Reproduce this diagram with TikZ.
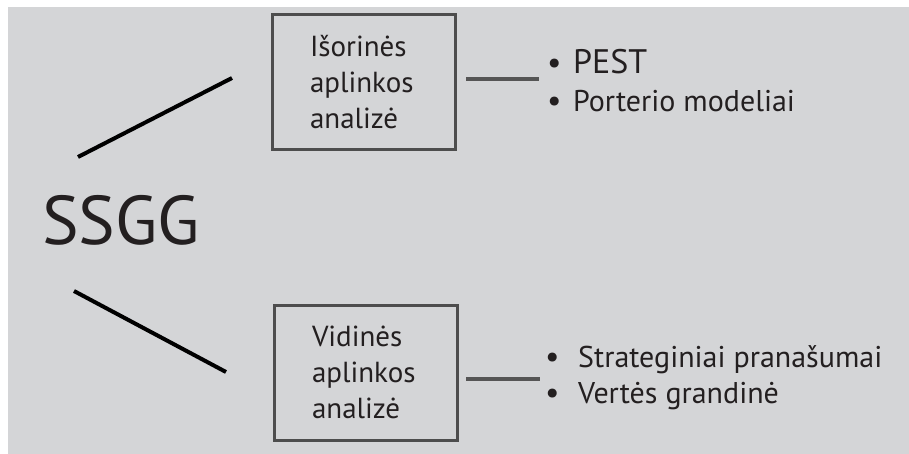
\documentclass[tikz,border=0pt]{standalone}
\usepackage{fontspec}
\setmainfont{PT Sans}
\definecolor{panel}{HTML}{D4D5D7}
\definecolor{ink}{HTML}{231F20}
\definecolor{frame}{HTML}{4D4D4D}
\definecolor{stubgray}{HTML}{555555}
\newcommand\itembullet[1]{\makebox[#1][l]{\fontsize{32}{32}\selectfont\textbullet}}
\begin{document}
\begin{tikzpicture}[x=1pt,y=-1pt,
  txt/.style={inner sep=0pt, text=ink, anchor=base west},
  boxfont/.style={font=\fontsize{29}{36}\selectfont},
  areabox/.style={draw=frame, line width=3pt, minimum width=183pt, minimum height=135pt,
    inner xsep=38pt, inner ysep=0pt, text width=107pt, align=left, text=ink, boxfont},
  branch/.style={draw=black, line width=4pt},
  stub/.style={draw=stubgray, line width=4.5pt}]
  % page and grey panel
  \useasboundingbox (0,0) rectangle (909,454);
  \fill[panel] (8,7) rectangle (909,454);

  % central label
  \node[txt, font=\fontsize{69}{69}\selectfont] (ssgg) at (42,244) {SSGG};

  % the two analysis boxes
  \node[areabox] (ext) at (363.5,82.5) {Išorinės\\aplinkos\\analizė};
  \node[areabox] (int) at (365.5,372.5) {Vidinės\\aplinkos\\analizė};

  % branches from the central label
  \coordinate (upA) at (78,157);
  \coordinate (upB) at (232,78);
  \coordinate (loA) at (74,291);
  \coordinate (loB) at (226,372);
  \draw[branch] (upA) -- (upB);
  \draw[branch] (loA) -- (loB);

  % short stubs leading to the item lists
  \coordinate (extStubA) at (466,79);
  \coordinate (extStubB) at (539,79);
  \coordinate (intStubA) at (466,379);
  \coordinate (intStubB) at (540,379);
  \draw[stub] (extStubA) -- (extStubB);
  \draw[stub] (intStubA) -- (intStubB);

  % item lists
  \node[txt, font=\fontsize{34}{34}\selectfont] (pest) at (547,74)
    {\itembullet{26pt}PEST};
  \node[txt, font=\fontsize{30}{30}\selectfont] (porter) at (547,112)
    {\itembullet{26pt}Porterio modeliai};
  \node[txt, font=\fontsize{30}{30}\selectfont] (strat) at (545,367)
    {\itembullet{33pt}Strateginiai pranašumai};
  \node[txt, font=\fontsize{30}{30}\selectfont] (value) at (545,403)
    {\itembullet{33pt}Vertės grandinė};
\end{tikzpicture}
\end{document}
